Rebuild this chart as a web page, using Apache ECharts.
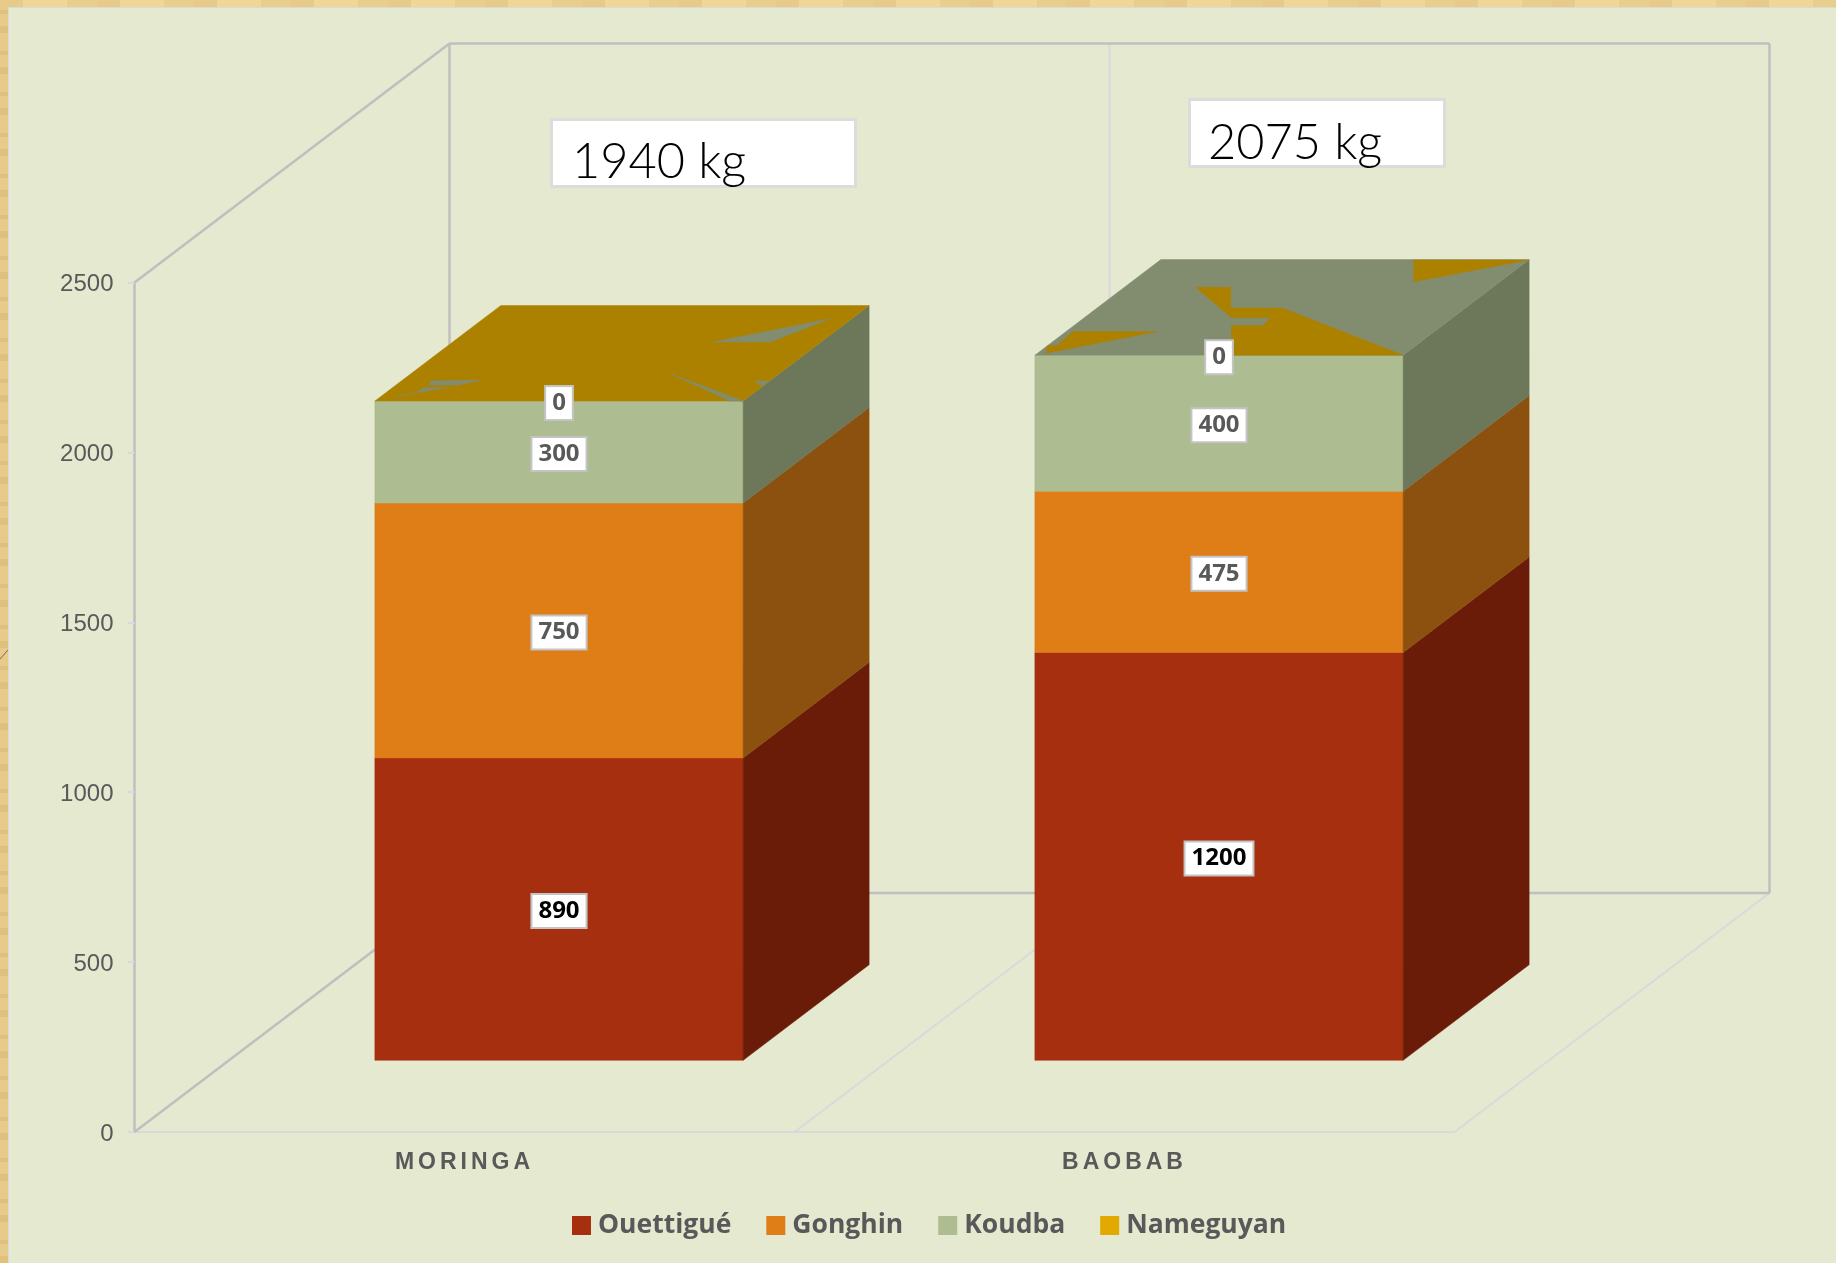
<!DOCTYPE html>
<html>
<head>
<meta charset="utf-8">
<style>
html,body{margin:0;padding:0;width:1836px;height:1263px;overflow:hidden}
body{position:relative;background-color:#ebd08f;background-image:
 repeating-linear-gradient(0deg,rgba(214,170,90,.20) 0 7px,rgba(255,236,170,.16) 7px 19px,rgba(205,160,90,.14) 19px 23px,rgba(255,232,165,.14) 23px 41px),
 repeating-linear-gradient(90deg,rgba(190,140,80,.16) 0 23px,rgba(255,240,180,.12) 23px 67px,rgba(190,140,80,.10) 67px 97px)}
#panel{position:absolute;left:8px;top:7px;right:0;bottom:0;background:#e4e9d0;box-shadow:inset 1px 1px 0 #d6dcd6}
#chart{position:absolute;left:0;top:0;width:1836px;height:1263px}
</style>
</head>
<body>
<div id="panel"></div>
<div id="chart"></div>
<script src="https://cdn.jsdelivr.net/npm/echarts@6/dist/echarts.min.js"></script>
<script>
// ---- data ----
const categories = ['MORINGA', 'BAOBAB'];
const ouettigue = [890, 1200];
const gonghin   = [750, 475];
const koudba    = [300, 400];
const nameguyan = [0, 0];
const totalLabels = ['1940 kg', '2075 kg'];
const yTicks = {min: 0, max: 2500, interval: 500};

// ---- styling ----
const seriesDefs = [
  {name: 'Ouettigué', values: ouettigue, front: '#a62f0f', side: '#6b1c08', labelColor: '#000000'},
  {name: 'Gonghin',   values: gonghin,   front: '#df7d17', side: '#8c500f', labelColor: '#595959'},
  {name: 'Koudba',    values: koudba,    front: '#adbc91', side: '#6d7759', labelColor: '#595959'},
  {name: 'Nameguyan', values: nameguyan, front: '#e2a900', side: '#8c6a00', labelColor: '#595959'}
];
const GOLD_TOP = '#ad8100', GREEN_TOP = '#828d6f';
const WALL_DARK = '#bfbfbf', WALL_LIGHT = '#d9d9dc';
const DEPTH = [315, -239];          // projected depth of the 3D box
const BAR_FRONT_GAP = 0.3, BAR_DEPTH = 0.4, BAR_WIDTH = 0.558;

// Flat top face: the reference shows two coplanar faces fighting each other.
// Fragments are given as fractions (u along width, v along depth) of each bar's top.
const topBase = [GOLD_TOP, GREEN_TOP];
const topFragColor = [GREEN_TOP, GOLD_TOP];
const topFragments = [
  [
    [[.707,.618],[.941,.860],[.863,.618]],
    [[.701,.291],[.743,.249],[1,0],[.964,0]],
    [[.960,.211],[1,.211],[.996,.158]],
    [[.087,.168],[.082,.211],[.214,.221],[.169,.168]],
    [[.083,.088],[.083,.140],[.147,.140]],
    [[.041,.039],[.083,.088],[.050,.053]]
  ],
  [
    [[.688,.996],[1,.996],[.766,.768]],
    [[.193,.712],[.2885,.712],[.395,.400]],
    [[.363,.495],[.502,.495],[1,0],[.534,0],[.427,.312],[.513,.312],[.506,.393],[.398,.393]],
    [[.019,.249],[.247,.249],[.024,.021],[0,.098],[.025,.098]]
  ]
];

// Letter-spaced category labels (canvas-level spacing, the text stays whole)
const proto = CanvasRenderingContext2D.prototype, origFill = proto.fillText;
proto.fillText = function (t, x, y, m) {
  if (categories.indexOf(t) >= 0) {
    this.letterSpacing = '4px';
    m === undefined ? origFill.call(this, t, x, y) : origFill.call(this, t, x, y, m);
    this.letterSpacing = '0px';
  } else {
    m === undefined ? origFill.call(this, t, x, y) : origFill.call(this, t, x, y, m);
  }
};

function poly(points, fill) {
  return {type: 'polygon', shape: {points: points}, style: {fill: fill, stroke: fill, lineWidth: 0.5}};
}
function seg(a, b, color, width) {
  return {type: 'line', shape: {x1: a[0], y1: a[1], x2: b[0], y2: b[1]}, style: {stroke: color, lineWidth: width}};
}

function renderWalls(params, api) {
  const L = api.coord([0, yTicks.min]);
  const band = api.size([1, 0])[0];
  const x0 = L[0] - band / 2, yB = L[1];
  const yT = api.coord([0, yTicks.max])[1];
  const [dx, dy] = DEPTH;
  const n = categories.length;
  const out = [];
  // light category separators on floor and back wall
  for (let i = 1; i <= n; i++) {
    const x = x0 + band * i;
    out.push(seg([x, yB], [x + dx, yB + dy], WALL_LIGHT, 2));
    if (i < n) out.push(seg([x + dx, yB + dy], [x + dx, yT + dy], WALL_LIGHT, 2));
  }
  const xR = x0 + band * n;
  out.push(seg([x0, yB], [x0 + dx, yB + dy], WALL_DARK, 2.5));
  out.push(seg([x0, yT], [x0 + dx, yT + dy], WALL_DARK, 2.5));
  out.push(seg([x0 + dx, yT + dy], [x0 + dx, yB + dy], WALL_DARK, 2.5));
  out.push(seg([x0 + dx, yT + dy], [xR + dx, yT + dy], WALL_DARK, 2.5));
  out.push(seg([xR + dx, yT + dy], [xR + dx, yB + dy], WALL_DARK, 2.5));
  out.push(seg([x0 + dx, yB + dy], [xR + dx, yB + dy], WALL_DARK, 2.5));
  return {type: 'group', children: out};
}

function makeRender(def) {
  return function (params, api) {
    const cat = api.value(0), base = api.value(1), top = api.value(2), val = api.value(3);
    const band = api.size([1, 0])[0];
    const pB = api.coord([cat, base]), pT = api.coord([cat, top]);
    const w = band * BAR_WIDTH;
    const ox = DEPTH[0] * BAR_FRONT_GAP, oy = DEPTH[1] * BAR_FRONT_GAP;
    const dx = DEPTH[0] * BAR_DEPTH, dy = DEPTH[1] * BAR_DEPTH;
    const xL = pB[0] + ox - w / 2, xR = xL + w;
    const yB = pB[1] + oy, yT = pT[1] + oy;
    const children = [];
    if (val > 0) {
      children.push(poly([[xL, yB], [xR, yB], [xR, yT], [xL, yT]], def.front));
      children.push(poly([[xR, yB], [xR + dx, yB + dy], [xR + dx, yT + dy], [xR, yT]], def.side));
    }
    if (def.name === 'Nameguyan') {
      const uv = p => [xL + p[0] * w + p[1] * dx, yT + p[1] * dy];
      children.push(poly([[0, 0], [1, 0], [1, 1], [0, 1]].map(uv), topBase[cat]));
      topFragments[cat].forEach(f => children.push(poly(f.map(uv), topFragColor[cat])));
    }
    children.push({
      type: 'text',
      z2: 10,
      style: {
        text: String(val), x: (xL + xR) / 2, y: (yB + yT) / 2 + 2,
        align: 'center', verticalAlign: 'middle',
        font: 'bold 24px "Open Sans", sans-serif', fill: def.labelColor,
        backgroundColor: '#ffffff', borderColor: '#c4c4c4', borderWidth: 2,
        padding: [4, 6, 4, 6]
      }
    });
    return {type: 'group', children: children};
  };
}

const cumul = categories.map(() => 0);
const barSeries = seriesDefs.map(def => ({
  name: def.name,
  type: 'custom',
  coordinateSystem: 'cartesian2d',
  itemStyle: {color: def.front},
  encode: {x: 0, y: 2},
  data: def.values.map((v, i) => {
    const row = [i, cumul[i], cumul[i] + v, v];
    cumul[i] += v;
    return row;
  }),
  renderItem: makeRender(def)
}));

function totalBox(boxX, boxY, boxW, boxH, textX, textY, label) {
  return [
    {type: 'rect', left: boxX, top: boxY, shape: {width: boxW, height: boxH, r: 0},
     style: {fill: '#ffffff', stroke: '#dcdcdc', lineWidth: 3}, z: 20},
    {type: 'text', left: textX, top: textY, z: 21,
     style: {text: label, font: '300 48.7px Lato, sans-serif', fill: '#000000'}}
  ];
}

const chart = echarts.init(document.getElementById('chart'), null, {renderer: 'canvas'});
chart.setOption({
  animation: false,
  backgroundColor: 'transparent',
  grid: {left: 134.5, top: 282.5, width: 1320, height: 849.5, containLabel: false},
  xAxis: {
    type: 'category', data: categories,
    axisLine: {show: true, lineStyle: {color: WALL_LIGHT, width: 2}},
    axisTick: {show: false},
    axisLabel: {color: '#595959', fontFamily: '"Liberation Sans", Arial, sans-serif', fontWeight: 'bold', fontSize: 23, margin: 19}
  },
  yAxis: {
    type: 'value', min: yTicks.min, max: yTicks.max, interval: yTicks.interval,
    axisLine: {show: true, lineStyle: {color: WALL_DARK, width: 2.5}},
    axisTick: {show: true, length: 7, lineStyle: {color: '#d9d9e0', width: 2}},
    axisLabel: {color: '#595959', fontFamily: '"Liberation Sans", Arial, sans-serif', fontSize: 24, margin: 21,
                verticalAlign: 'top', lineHeight: 4, formatter: v => String(v)},
    splitLine: {show: false}
  },
  legend: {
    left: 567, top: 1207, icon: 'rect', itemWidth: 19, itemHeight: 19, itemGap: 35,
    data: seriesDefs.map(d => d.name),
    selectedMode: false,
    textStyle: {color: '#595959', fontFamily: '"Open Sans", sans-serif', fontWeight: 'bold', fontSize: 26.5, padding: [0, 0, 0, 2]}
  },
  graphic: [
    ...totalBox(550, 118, 304, 67, 572, 138, totalLabels[0]),
    ...totalBox(1188, 98, 255, 67, 1208, 119, totalLabels[1]),
    {type: 'line', shape: {x1: 0, y1: 659, x2: 8, y2: 650}, style: {stroke: '#7a6a50', lineWidth: 1}, z: 1}
  ],
  series: [
    {type: 'custom', name: 'walls', coordinateSystem: 'cartesian2d', silent: true, encode: {x: 0, y: 1},
     data: [[0, 0]], renderItem: renderWalls, z: 1},
    ...barSeries.map(s => Object.assign(s, {z: 3}))
  ]
});
</script>
</body>
</html>
